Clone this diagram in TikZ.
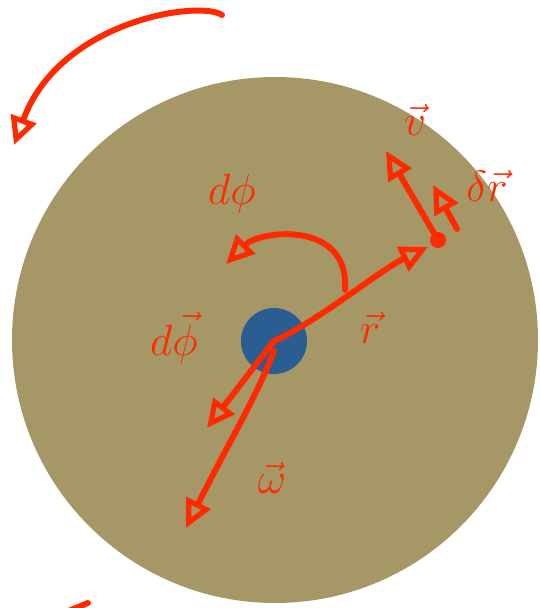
\documentclass[tikz,border=0pt]{standalone}
\usepackage{amsmath}
\usepackage{tikz}
\usetikzlibrary{positioning, arrows.meta, calc}
\definecolor{disco}{RGB}{166,152,102}
\definecolor{eje}{RGB}{42,93,146}
\definecolor{tinta}{RGB}{255,42,0}
\tikzset{
  flecha/.style={draw=tinta, line width=3.4pt, line cap=round, line join=round,
    -{Triangle[open, length=16pt, width=15pt, line width=3pt]}},
  trazo/.style={draw=tinta, line width=3.4pt, line cap=round},
  etiqueta/.style={text=tinta, font=\fontsize{27}{30}\selectfont, inner sep=1pt}
}
\begin{document}
\begin{tikzpicture}[x=0.02cm, y=-0.02cm]
            % Marco de la imagen
            \useasboundingbox (0,0) rectangle (539,608);

            % Disco y eje de giro
            \node (disco) [circle, fill=disco, minimum size=526*0.02cm, inner sep=0pt] at (275,340) {};
            \node (eje) [circle, fill=eje, minimum size=66*0.02cm, inner sep=0pt] at (274,341) {};
            \node (masa) [circle, fill=tinta, minimum size=16*0.02cm, inner sep=0pt] at (438,240) {};

            % Puntos auxiliares de las flechas
            \coordinate (r-fin) at (428,247);
            \coordinate (v-fin) at (386,151);
            \coordinate (dr-ini) at (457,229);
            \coordinate (dr-fin) at (433,185);
            \coordinate (dphi-ini) at (345,290);
            \coordinate (dphi-fin) at (226,264);
            \coordinate (dvphi-fin) at (207,428);
            \coordinate (w-fin) at (186,528);
            \coordinate (giro-ini) at (222,15);
            \coordinate (giro-fin) at (14,145);

            % Sentido de giro (arriba a la izquierda)
            \draw [flecha] (giro-ini) .. controls (200,0) and (60,20) .. (giro-fin);

            % Vector posición, velocidad y desplazamiento
            \draw [flecha] (eje.center) .. controls (320,320) and (380,270) .. (r-fin);
            \draw [flecha] (masa) -- (v-fin);
            \draw [flecha] (dr-ini) -- (dr-fin);

            % Ángulo barrido
            \draw [flecha] (dphi-ini) .. controls (350,220) and (260,230) .. (dphi-fin);

            % Vectores sobre el eje
            \draw [flecha] (eje.center) -- (dvphi-fin);
            \draw [flecha] ([yshift=-0.2cm]eje.center) .. controls (255,400) and (230,440) .. (w-fin);

            % Etiquetas
            \node (lr) [etiqueta] at (370,328) {$\vec r$};
            \node (lv) [etiqueta] at (415,120) {$\vec v$};
            \node (ldr) [etiqueta] at (487,186) {$\delta\vec r$};
            \node (ldphi) [etiqueta] at (232,194) {$d\phi$};
            \node (ldvphi) [etiqueta] at (174,338) {$d\vec\phi$};
            \node (lw) [etiqueta] at (272,478) {$\vec\omega$};

            % Trazo cortado en el borde inferior
            \draw [trazo] (66,612) -- (88,603);
        \end{tikzpicture}
\end{document}
